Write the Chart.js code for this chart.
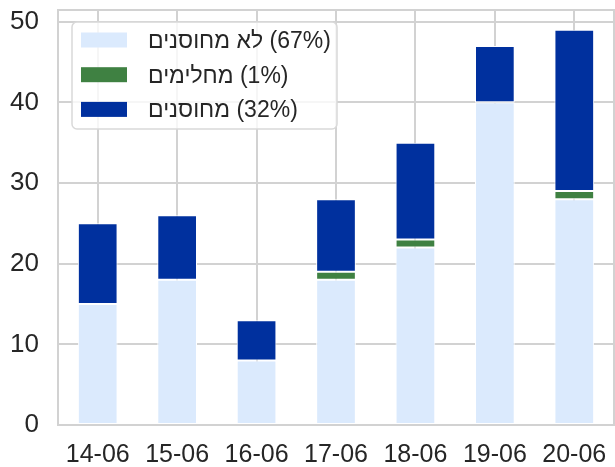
<!DOCTYPE html>
<html lang="he">
<head>
  <meta charset="UTF-8" />
  <title>מחוסנים / לא מחוסנים לפי יום</title>
  <style>
    body {
      margin: 0;
      background-color: #fff;
    }

    canvas {
      display: block;
    }
  </style>
</head>
<body>
  <canvas id="chart" width="615" height="467"></canvas>

  <script src="https://cdn.jsdelivr.net/npm/chart.js"></script>
  <script>
    const dates = ["14-06", "15-06", "16-06", "17-06", "18-06", "19-06", "20-06"];
    const notVaccinated = [15, 18, 8, 18, 22, 40, 28];
    const recovered = [0, 0, 0, 1, 1, 0, 1];
    const vaccinated = [10, 8, 5, 9, 12, 7, 20];
    const yTicks = [0, 10, 20, 30, 40, 50];

    const seriesNames = ["לא מחוסנים", "מחלימים", "מחוסנים"];
    const seriesColors = ["#dbeafd", "#3f8142", "#00309e"];

    const FONT = "'Liberation Sans', Arial, sans-serif";
    const TEXT = "#262626";
    const GRID = "#d2d2d2";

    const sum = arr => arr.reduce((a, b) => a + b, 0);
    const total = sum(notVaccinated) + sum(recovered) + sum(vaccinated);
    // LRM keeps the "(xx%)" part on the right of the Hebrew name
    const legendLabel = (name, data) =>
      `${name}\u200E (${Math.round(sum(data) / total * 100)}%)`;

    const maxTotal = Math.max(...dates.map((_, i) => notVaccinated[i] + recovered[i] + vaccinated[i]));

    // frame round the plot, drawn over the bars like the mpl spines
    const frame = {
      id: "frame",
      afterDatasetsDraw(chart) {
        const { ctx, chartArea: a } = chart;
        ctx.save();
        ctx.strokeStyle = GRID;
        ctx.lineWidth = 2;
        ctx.strokeRect(a.left, a.top, a.right - a.left, a.bottom - a.top);
        ctx.restore();
      }
    };

    // legend box in the upper left corner, semi transparent like matplotlib
    const legendBox = {
      id: "legendBox",
      afterDraw(chart) {
        const ctx = chart.ctx;
        const x = 72, y = 22, w = 265, h = 107, r = 5;
        ctx.save();
        ctx.beginPath();
        ctx.roundRect(x, y, w, h, r);
        ctx.fillStyle = "rgba(255,255,255,0.8)";
        ctx.fill();
        ctx.strokeStyle = "#d9d9d9";
        ctx.lineWidth = 1.5;
        ctx.stroke();

        ctx.font = `23px ${FONT}`;
        ctx.textBaseline = "middle";
        ctx.textAlign = "left";
        chart.data.datasets.forEach((ds, i) => {
          const cy = 40 + i * 34.7;
          ctx.fillStyle = ds.backgroundColor;
          ctx.fillRect(81, cy - 7.5, 46, 15);
          ctx.fillStyle = TEXT;
          ctx.fillText(ds.label, 148, cy + 1.5);
        });
        ctx.restore();
      }
    };

    const makeSet = (i, data) => ({
      label: legendLabel(seriesNames[i], data),
      data: data,
      backgroundColor: seriesColors[i],
      borderColor: "#ffffff",
      borderWidth: 1,
      borderSkipped: false,
      barPercentage: 0.5,
      categoryPercentage: 1.0
    });

    // drop the label overflow padding, the layout below is fixed by hand
    const noPad = s => {
      s.paddingTop = 0;
      s.paddingBottom = 0;
      s.paddingLeft = 0;
      s.paddingRight = 0;
    };

    new Chart(document.getElementById("chart"), {
      type: "bar",
      data: {
        labels: dates,
        datasets: [
          makeSet(0, notVaccinated),
          makeSet(1, recovered),
          makeSet(2, vaccinated)
        ]
      },
      options: {
        responsive: false,
        animation: false,
        layout: { padding: { top: 10, right: 1, left: 0, bottom: 0 } },
        plugins: {
          legend: { display: false },
          tooltip: { enabled: false }
        },
        scales: {
          x: {
            stacked: true,
            offset: true,
            border: { display: false },
            grid: { offset: false, color: GRID, lineWidth: 2, drawTicks: false },
            ticks: {
              color: TEXT,
              font: { family: FONT, size: 25 },
              padding: 15,
              maxRotation: 0,
              autoSkip: false
            },
            afterFit: s => { s.height = 42; noPad(s); }
          },
          y: {
            stacked: true,
            min: 0,
            max: maxTotal * 1.05,
            border: { display: false },
            grid: { color: GRID, lineWidth: 2, drawTicks: false },
            ticks: {
              color: TEXT,
              font: { family: FONT, size: 26 },
              padding: 19,
              includeBounds: false
            },
            afterBuildTicks: s => { s.ticks = yTicks.map(v => ({ value: v })); },
            afterFit: s => { s.width = 58; noPad(s); }
          }
        }
      },
      plugins: [frame, legendBox]
    });
  </script>
</body>
</html>
